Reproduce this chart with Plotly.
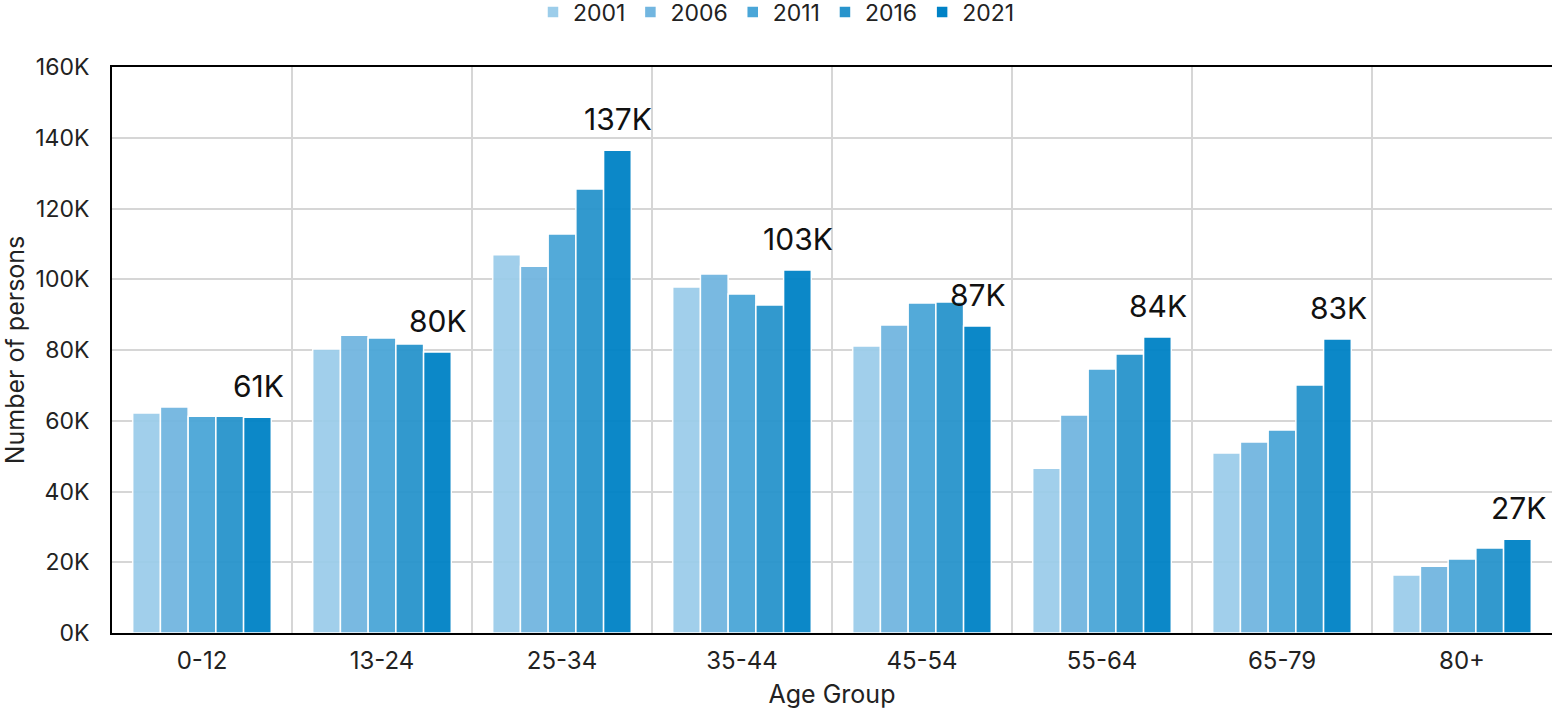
import plotly.graph_objects as go

age_groups = ["0-12", "13-24", "25-34", "35-44", "45-54", "55-64", "65-79", "80+"]
years = ["2001", "2006", "2011", "2016", "2021"]
v2001 = [62.2, 80.3, 106.9, 97.8, 81.1, 46.6, 50.9, 16.4]
v2006 = [63.9, 84.2, 103.7, 101.5, 87.1, 61.6, 54.0, 18.9]
v2011 = [61.3, 83.4, 112.8, 95.8, 93.3, 74.6, 57.4, 20.9]
v2016 = [61.3, 81.7, 125.5, 92.7, 93.6, 78.9, 70.1, 24.0]
v2021 = [61.0, 79.4, 136.5, 102.6, 86.8, 83.7, 83.1, 26.5]
series = [v2001, v2006, v2011, v2016, v2021]
colors = ["#9ccdea", "#72b6e0", "#4aa6d8", "#2894cc", "#0082c6"]
label_texts = ["61K", "80K", "137K", "103K", "87K", "84K", "83K", "27K"]

FONT = "Inter, Lato, sans-serif"

fig = go.Figure()
for yr, vals, col in zip(years, series, colors):
    fig.add_trace(go.Bar(
        name=yr, x=age_groups, y=[v * 1000 for v in vals],
        marker=dict(color=col, line=dict(color="white", width=1.5), opacity=0.95),
    ))

for cat, val, txt in zip(age_groups, v2021, label_texts):
    fig.add_annotation(x=cat, y=val * 1000, text=txt, showarrow=False,
                       xanchor="center", yanchor="bottom", xshift=56, yshift=11,
                       font=dict(family=FONT, size=30, color="#111111"))

fig.update_layout(
    width=1553, height=709,
    margin=dict(l=112, r=1, t=67, b=76, autoexpand=False),
    paper_bgcolor="white", plot_bgcolor="white",
    barmode="group", bargap=0.23, bargroupgap=0,
    font=dict(family=FONT, size=22, color="#222222"),
    legend=dict(orientation="h", x=0.5, xref="container", xanchor="center",
                y=1.097, yref="paper", yanchor="middle",
                font=dict(size=23, color="#222222"), itemwidth=30,
                traceorder="normal", tracegroupgap=0),
    xaxis=dict(
        title=dict(text="Age Group", font=dict(size=25), standoff=26),
        tickson="boundaries", showgrid=True, gridcolor="#d6d6d6", gridwidth=2,
        showline=True, linecolor="#000000", linewidth=2, mirror=True,
        layer="below traces", ticks="", tickfont=dict(size=24), automargin=False,
        ticklabelstandoff=5,
    ),
    yaxis=dict(
        title=dict(text="Number of persons", font=dict(size=25), standoff=10),
        range=[0, 160000], tickvals=[0, 20000, 40000, 60000, 80000, 100000, 120000, 140000, 160000],
        ticktext=["0K", "20K", "40K", "60K", "80K", "100K", "120K", "140K", "160K"],
        showgrid=True, gridcolor="#d6d6d6", gridwidth=2, zeroline=False,
        showline=True, linecolor="#000000", linewidth=2,
        layer="below traces", ticks="", tickfont=dict(size=23), ticklabelstandoff=16,
        automargin=False,
    ),
)

fig.write_html("out.html", config={"displayModeBar": False},
               post_script="document.body.style.margin='0';document.body.style.overflow='hidden';")
